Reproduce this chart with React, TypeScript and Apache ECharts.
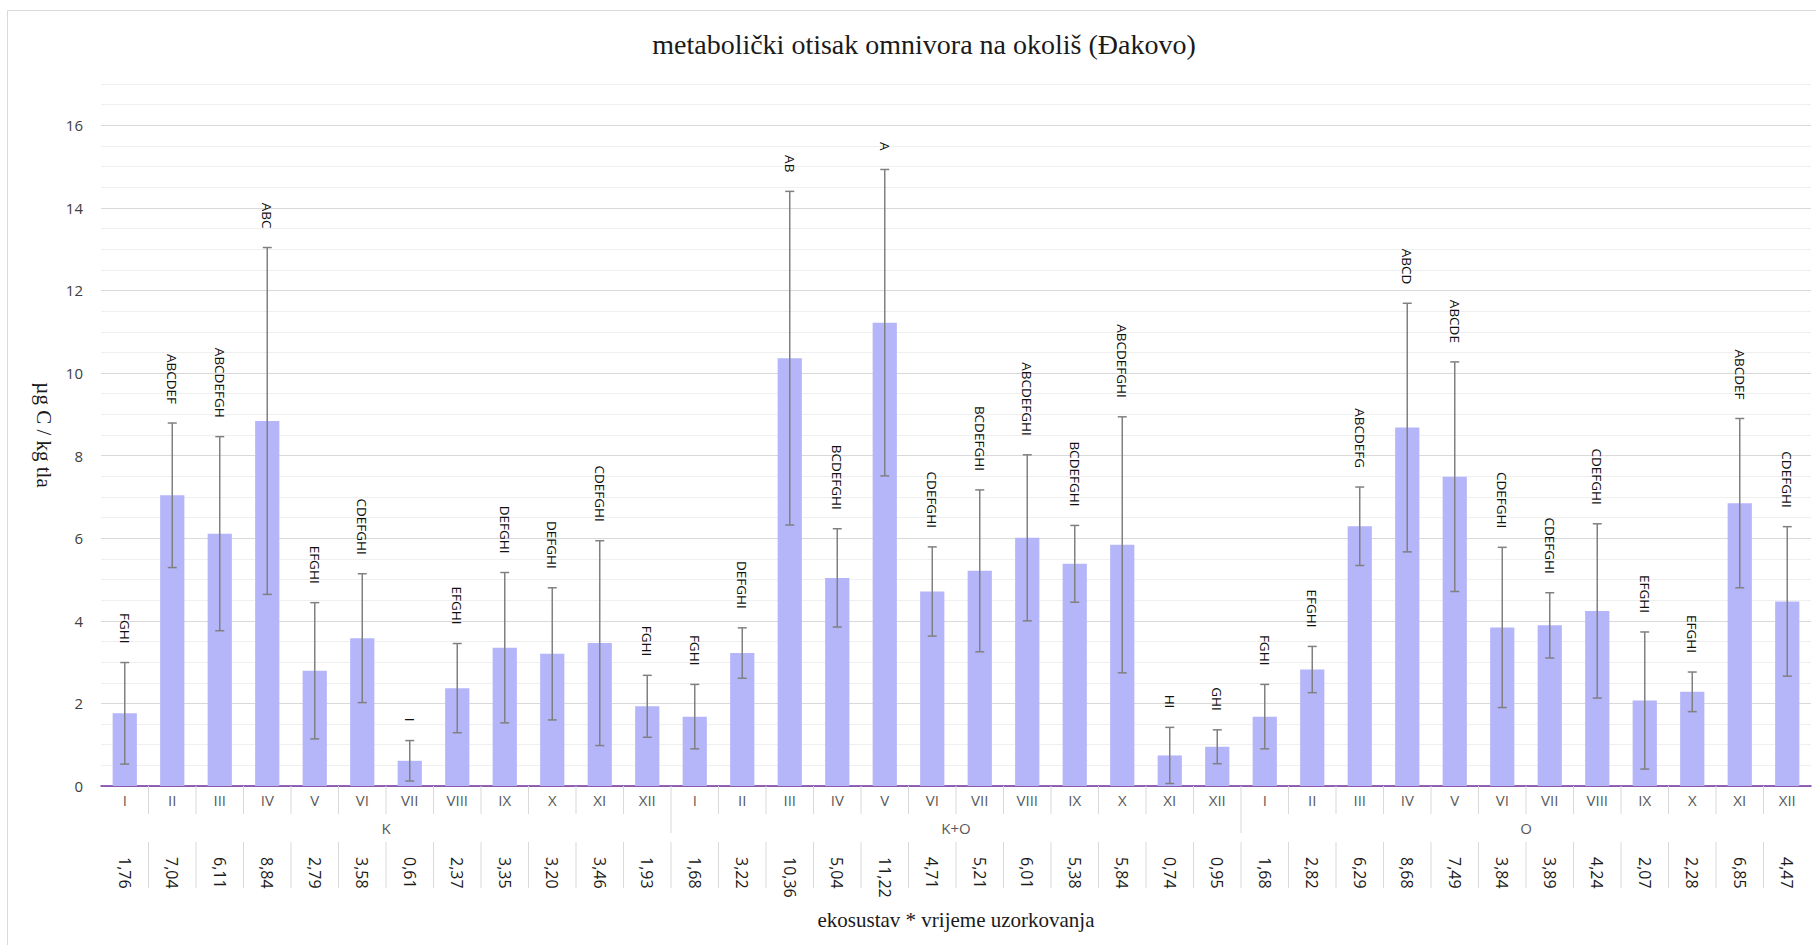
import React, { useEffect, useRef } from 'react';
import * as echarts from 'echarts';

const groups = ['K', 'K+O', 'O'];
const months = ['I', 'II', 'III', 'IV', 'V', 'VI', 'VII', 'VIII', 'IX', 'X', 'XI', 'XII'];

const valuesK = [1.76, 7.04, 6.11, 8.84, 2.79, 3.58, 0.61, 2.37, 3.35, 3.2, 3.46, 1.93];
const valuesKO = [1.68, 3.22, 10.36, 5.04, 11.22, 4.71, 5.21, 6.01, 5.38, 5.84, 0.74, 0.95];
const valuesO = [1.68, 2.82, 6.29, 8.68, 7.49, 3.84, 3.89, 4.24, 2.07, 2.28, 6.85, 4.47];

const errK = [1.23, 1.75, 2.35, 4.2, 1.65, 1.56, 0.49, 1.08, 1.82, 1.6, 2.48, 0.75];
const errKO = [0.78, 0.61, 4.04, 1.19, 3.71, 1.08, 1.96, 2.01, 0.93, 3.1, 0.68, 0.41];
const errO = [0.78, 0.56, 0.95, 3.01, 2.78, 1.94, 0.79, 2.11, 1.66, 0.48, 2.05, 1.81];

const lettersK = ['FGHI', 'ABCDEF', 'ABCDEFGH', 'ABC', 'EFGHI', 'CDEFGHI', 'I', 'EFGHI', 'DEFGHI', 'DEFGHI', 'CDEFGHI', 'FGHI'];
const lettersKO = ['FGHI', 'DEFGHI', 'AB', 'BCDEFGHI', 'A', 'CDEFGHI', 'BCDEFGHI', 'ABCDEFGHI', 'BCDEFGHI', 'ABCDEFGHI', 'HI', 'GHI'];
const lettersO = ['FGHI', 'EFGHI', 'ABCDEFG', 'ABCD', 'ABCDE', 'CDEFGHI', 'CDEFGHI', 'CDEFGHI', 'EFGHI', 'EFGHI', 'ABCDEF', 'CDEFGHI'];

const yTicks = [0, 2, 4, 6, 8, 10, 12, 14, 16];

const titleText = 'metabolički otisak omnivora na okoliš (Đakovo)';
const yName = 'µg C / kg tla';
const xName = 'ekosustav * vrijeme uzorkovanja';

const SANS = '"Open Sans", "Noto Sans", sans-serif';
const SERIF = '"Liberation Serif", "DejaVu Serif", serif';

export default function App() {
  const ref = useRef<HTMLDivElement>(null);

  useEffect(() => {
    if (!ref.current) return;
    const chart = echarts.init(ref.current, undefined, { renderer: 'svg' });

    const categories = groups.flatMap((g) => months.map((m) => `${g}|${m}`));
    const values = [...valuesK, ...valuesKO, ...valuesO];
    const errs = [...errK, ...errKO, ...errO];
    const letters = [...lettersK, ...lettersKO, ...lettersO];
    const perGroup = months.length;

    const errData = values.map((v, i) => [i, v, errs[i]]);
    const tableData = values.map((v, i) => [i, v]);

    const option: any = {
      animation: false,
      backgroundColor: '#ffffff',
      graphic: [
        {
          type: 'rect',
          z: -10,
          shape: { x: 7.5, y: 10.5, width: 2000, height: 2000 },
          style: { fill: 'none', stroke: '#d9d9d9', lineWidth: 1 },
        },
        {
          type: 'text',
          x: 924,
          y: 44,
          style: {
            text: titleText,
            align: 'center',
            verticalAlign: 'middle',
            fontFamily: SERIF,
            fontSize: 28,
            fill: '#1a1a1a',
          },
        },
      ],
      grid: { left: 101, right: 5, top: 84, bottom: 159, containLabel: false },
      xAxis: {
        type: 'category',
        data: categories,
        axisLine: { show: true, lineStyle: { color: '#7030A0', width: 1.5 } },
        axisTick: { show: false },
        axisLabel: {
          interval: 0,
          margin: 6,
          color: '#595959',
          fontFamily: SANS,
          fontSize: 15,
          formatter: (v: string) => v.split('|')[1],
        },
        name: xName,
        nameLocation: 'middle',
        nameGap: 123,
        nameTextStyle: { fontFamily: SERIF, fontSize: 21, color: '#1a1a1a' },
      },
      yAxis: {
        type: 'value',
        min: 0,
        max: 17,
        interval: 0.5,
        axisLine: { show: false },
        axisTick: { show: false },
        axisLabel: {
          margin: 18,
          color: '#404040',
          fontFamily: SANS,
          fontSize: 15,
          formatter: (v: number) => (yTicks.includes(v) ? String(v) : ''),
        },
        splitLine: {
          show: true,
          lineStyle: { color: ['#d9d9d9', '#efefef', '#efefef', '#efefef'], width: 1 },
        },
        name: yName,
        nameLocation: 'middle',
        nameRotate: -90,
        nameGap: 42,
        nameTextStyle: { fontFamily: SERIF, fontSize: 21, color: '#1a1a1a' },
      },
      series: [
        {
          type: 'bar',
          data: values,
          barWidth: '51%',
          itemStyle: { color: '#B5B5FA' },
          silent: true,
        },
        {
          type: 'custom',
          data: errData,
          encode: { x: 0, y: 1 },
          clip: false,
          z: 5,
          silent: true,
          renderItem: (params: any, api: any) => {
            const i = params.dataIndex;
            const v = api.value(1);
            const e = api.value(2);
            const top = api.coord([i, v + e]);
            const bot = api.coord([i, v - e]);
            const cap = 4.5;
            const ls = { stroke: '#808080', lineWidth: 1.5 };
            return {
              type: 'group',
              children: [
                { type: 'line', shape: { x1: top[0], y1: top[1], x2: bot[0], y2: bot[1] }, style: ls },
                { type: 'line', shape: { x1: top[0] - cap, y1: top[1], x2: top[0] + cap, y2: top[1] }, style: ls },
                { type: 'line', shape: { x1: bot[0] - cap, y1: bot[1], x2: bot[0] + cap, y2: bot[1] }, style: ls },
                {
                  type: 'text',
                  x: top[0],
                  y: top[1] - 19,
                  rotation: -Math.PI / 2,
                  style: {
                    text: letters[i],
                    align: 'right',
                    verticalAlign: 'middle',
                    fontFamily: SANS,
                    fontSize: 13.5,
                    fill: '#111111',
                  },
                },
              ],
            };
          },
        },
        {
          type: 'custom',
          data: tableData,
          encode: { x: 0, y: 1 },
          clip: false,
          z: 5,
          silent: true,
          renderItem: (params: any, api: any) => {
            const i = params.dataIndex;
            const c = api.coord([i, 0]);
            const bw = api.size([1, 0])[0];
            const left = c[0] - bw / 2;
            const y0 = c[1];
            const sep = { stroke: '#d9d9d9', lineWidth: 1 };
            const children: any[] = [];
            if (i % perGroup !== 0) {
              children.push({ type: 'line', shape: { x1: left, y1: y0, x2: left, y2: y0 + 28 }, style: sep });
            } else if (i > 0) {
              children.push({ type: 'line', shape: { x1: left, y1: y0, x2: left, y2: y0 + 47 }, style: sep });
            }
            if (i > 0) {
              children.push({ type: 'line', shape: { x1: left, y1: y0 + 56, x2: left, y2: y0 + 102 }, style: sep });
            }
            if (i % perGroup === perGroup / 2) {
              children.push({
                type: 'text',
                x: left,
                y: y0 + 42,
                style: {
                  text: groups[Math.floor(i / perGroup)],
                  align: 'center',
                  verticalAlign: 'middle',
                  fontFamily: SANS,
                  fontSize: 15,
                  fill: '#595959',
                },
              });
            }
            children.push({
              type: 'text',
              x: c[0],
              y: y0 + 71,
              rotation: -Math.PI / 2,
              style: {
                text: api.value(1).toFixed(2).replace('.', ','),
                align: 'left',
                verticalAlign: 'middle',
                fontFamily: SANS,
                fontSize: 16,
                fill: '#1a1a1a',
              },
            });
            return { type: 'group', children };
          },
        },
      ],
    };

    chart.setOption(option);
    return () => chart.dispose();
  }, []);

  return (
    <div
      ref={ref}
      style={{ position: 'absolute', left: 0, top: 0, width: 1816, height: 945 }}
    />
  );
}
